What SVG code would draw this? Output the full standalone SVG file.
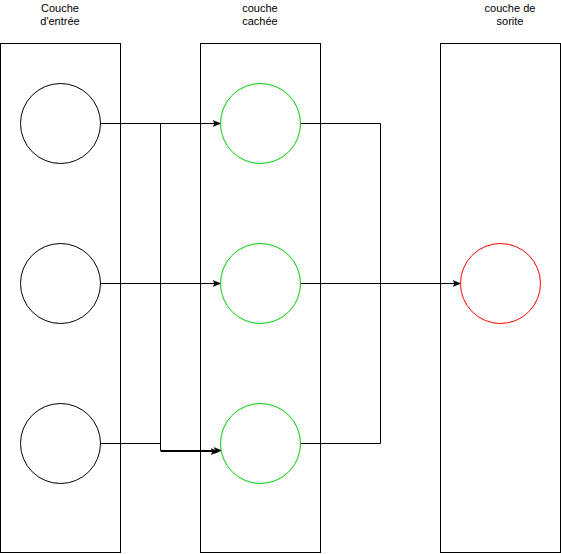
<svg xmlns="http://www.w3.org/2000/svg" width="561" height="554" viewBox="0 0 561 554">
<style>
  .layer{fill:#ffffff;stroke:#000000;stroke-width:1}
  .node{fill:#ffffff;stroke-width:1}
  .in{stroke:#000000}
  .hid{stroke:#00CC00}
  .out{stroke:#FF0000}
  .edge{fill:none;stroke:#000000;stroke-width:1}
  .arr{marker-end:url(#arrow)}
  .lbl{font-family:"Liberation Sans",Arial,Helvetica,sans-serif;font-size:11px;fill:#000000;text-anchor:middle}
</style>
<defs>
  <marker id="arrow" viewBox="0 0 10 10" refX="9" refY="5" markerWidth="8" markerHeight="8" markerUnits="userSpaceOnUse" orient="auto">
    <path d="M0,1 L10,5 L0,9 L2.5,5 Z" fill="#000000" stroke="#000000" stroke-width="0.5"/>
  </marker>
</defs>
<rect width="561" height="554" fill="#ffffff"/>
<g id="layer-input">
  <rect class="layer" x="0.5" y="43.5" width="120" height="509"/>
  <text class="lbl" x="60" y="11.5">Couche</text>
  <text class="lbl" x="60" y="25">d'entrée</text>
</g>
<g id="layer-hidden">
  <rect class="layer" x="200.5" y="43.5" width="120" height="509"/>
  <text class="lbl" x="260" y="11.5">couche</text>
  <text class="lbl" x="260" y="25">cachée</text>
</g>
<g id="layer-output">
  <rect class="layer" x="440.5" y="43.5" width="120" height="509"/>
  <text class="lbl" x="510" y="11.5">couche de</text>
  <text class="lbl" x="510" y="25">sorite</text>
</g>
<g id="connectors">
  <path class="edge arr" d="M100.5,123.5 L220,123.5"/>
  <path class="edge" d="M160.5,123.5 L160.5,450.5"/>
  <path class="edge arr" d="M100.5,283.5 L220,283.5"/>
  <path class="edge" d="M100.5,443.5 L160.5,443.5"/>
  <path class="edge arr" d="M160.5,450.5 L221,450.5"/>
  <path class="edge arr" d="M160.5,451.5 L218,451.5"/>
  <path class="edge" d="M300.5,123.5 L380.5,123.5 L380.5,443.5 L300.5,443.5"/>
  <path class="edge arr" d="M300.5,283.5 L460,283.5"/>
</g>
<g id="input-1"><circle class="node in" cx="60.5" cy="123.5" r="40"/></g>
<g id="input-2"><circle class="node in" cx="60.5" cy="283.5" r="40"/></g>
<g id="input-3"><circle class="node in" cx="60.5" cy="443.5" r="40"/></g>
<g id="hidden-1"><circle class="node hid" cx="260.5" cy="123.5" r="40"/></g>
<g id="hidden-2"><circle class="node hid" cx="260.5" cy="283.5" r="40"/></g>
<g id="hidden-3"><circle class="node hid" cx="260.5" cy="443.5" r="40"/></g>
<g id="output-1"><circle class="node out" cx="500.5" cy="283.5" r="40"/></g>
</svg>
